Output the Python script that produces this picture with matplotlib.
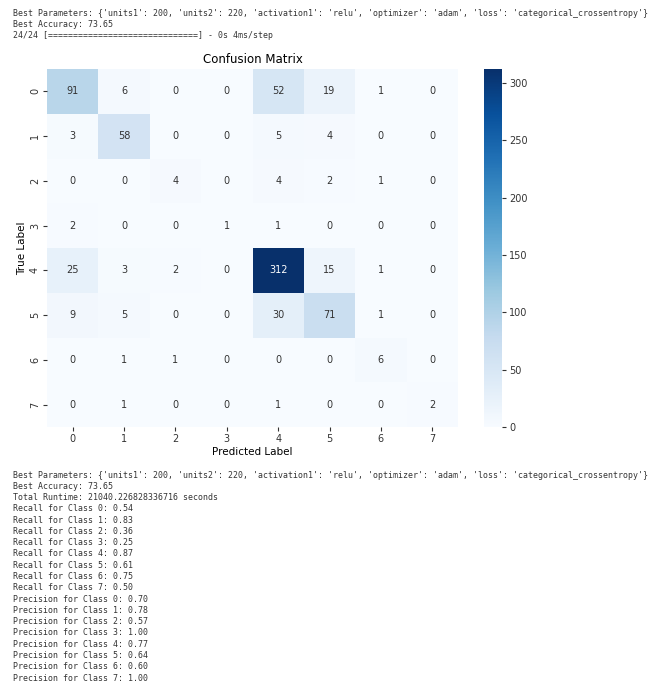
import matplotlib
matplotlib.use("Agg")
import matplotlib.pyplot as plt
import numpy as np
import seaborn as sns

# confusion matrix values (rows = true label, cols = predicted label)
cm = np.array([
    [91, 6, 0, 0, 52, 19, 1, 0],
    [3, 58, 0, 0, 5, 4, 0, 0],
    [0, 0, 4, 0, 4, 2, 1, 0],
    [2, 0, 0, 1, 1, 0, 0, 0],
    [25, 3, 2, 0, 312, 15, 1, 0],
    [9, 5, 0, 0, 30, 71, 1, 0],
    [0, 1, 1, 0, 0, 0, 6, 0],
    [0, 1, 0, 0, 1, 0, 0, 2],
])
class_labels = [str(i) for i in range(8)]

params = "{'units1': 200, 'units2': 220, 'activation1': 'relu', 'optimizer': 'adam', 'loss': 'categorical_crossentropy'}"
best_acc = "73.65"
runtime = "21040.226828336716"
recall = [0.54, 0.83, 0.36, 0.25, 0.87, 0.61, 0.75, 0.50]
precision = [0.70, 0.78, 0.57, 1.00, 0.77, 0.64, 0.60, 1.00]

mono = dict(family="DejaVu Sans Mono", fontsize=5.95, color="#333333", va="center", ha="left")
W, H = 662, 686


def put_lines(lines, y_start, step):
    for i, line in enumerate(lines):
        y = y_start + i * step
        fig.text(13 / W, 1 - y / H, line, **mono)


fig = plt.figure(figsize=(6.62, 6.86), dpi=100)

top_lines = [
    "Best Parameters: " + params,
    "Best Accuracy: " + best_acc,
    "24/24 [" + "=" * 30 + "] - 0s 4ms/step",
]
put_lines(top_lines, 13, 11.2)

ax = fig.add_axes([47 / W, 1 - 427 / H, (458 - 47) / W, (427 - 69) / H])
cax = fig.add_axes([484 / W, 1 - 427 / H, 18 / W, (427 - 69) / H])

sns.heatmap(cm, annot=True, fmt="d", cmap="Blues", ax=ax, cbar_ax=cax,
            xticklabels=class_labels, yticklabels=class_labels,
            annot_kws={"fontsize": 7})
ax.set_title("Confusion Matrix", fontsize=8.5, pad=4)
ax.set_xlabel("Predicted Label", fontsize=7.5, labelpad=2)
ax.set_ylabel("True Label", fontsize=7.5, labelpad=2)
ax.tick_params(labelsize=7, length=3, colors="#333333", pad=2)
cax.tick_params(labelsize=7, length=3, colors="#333333", pad=2)
for t in ax.texts:
    if t.get_text() != "312":
        t.set_color("#333333")

bottom_lines = ["Best Parameters: " + params,
                "Best Accuracy: " + best_acc,
                "Total Runtime: " + runtime + " seconds"]
bottom_lines += [f"Recall for Class {i}: {r:.2f}" for i, r in enumerate(recall)]
bottom_lines += [f"Precision for Class {i}: {p:.2f}" for i, p in enumerate(precision)]
put_lines(bottom_lines, 475, 11.28)

fig.savefig("out.png", dpi=100)
